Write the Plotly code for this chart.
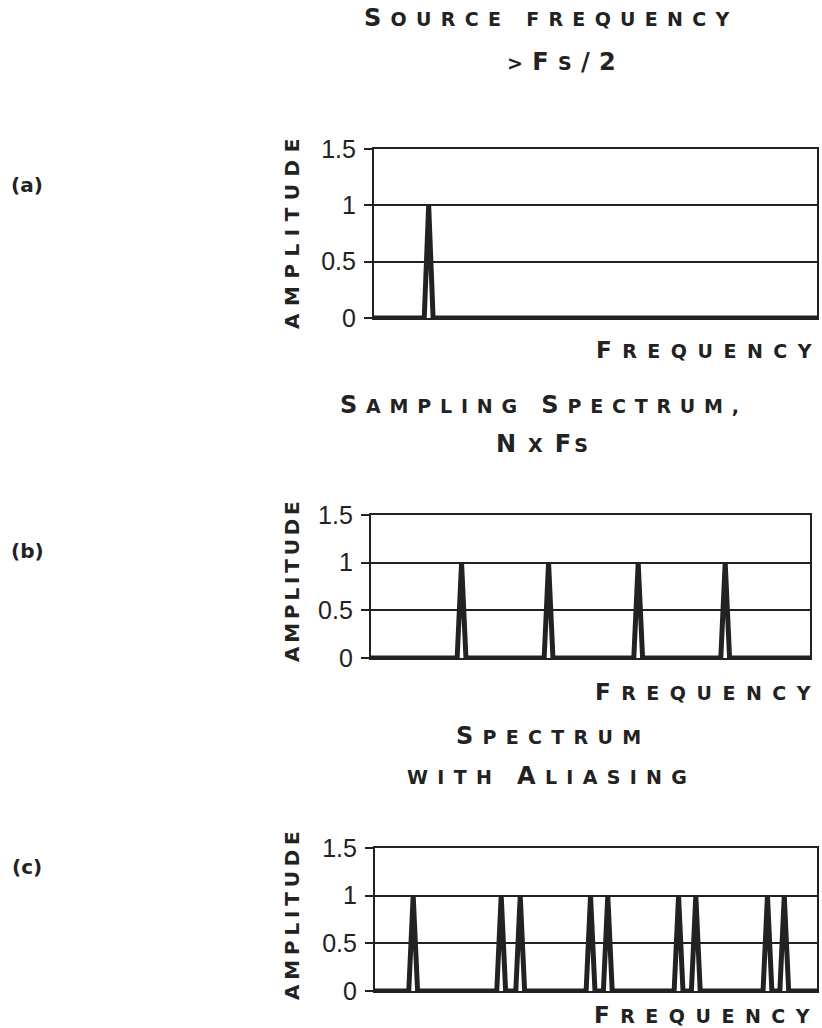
import plotly.graph_objects as go

W, H = 822, 1028

# ---------------- data (frequency position in % of axis, amplitude) ----------------
freq_a = [0, 11.4, 12.4, 13.4, 100]
amp_a = [0, 0, 1, 0, 0]

freq_b = [0, 19.7, 20.7, 21.7, 39.5, 40.5, 41.5, 59.9, 60.9, 61.9, 79.7, 80.7, 81.7, 100]
amp_b = [0, 0, 1, 0, 0, 1, 0, 0, 1, 0, 0, 1, 0, 0]

freq_c = [0, 7.7, 8.7, 9.7,
          27.6, 28.6, 29.6, 31.9, 32.9, 33.9,
          47.8, 48.8, 49.8, 51.7, 52.7, 53.7,
          67.7, 68.7, 69.7, 71.6, 72.6, 73.6,
          87.8, 88.8, 89.8, 91.6, 92.6, 93.6, 100]
amp_c = [0, 0, 1, 0,
         0, 1, 0, 0, 1, 0,
         0, 1, 0, 0, 1, 0,
         0, 1, 0, 0, 1, 0,
         0, 1, 0, 0, 1, 0, 0]

y_tick_vals = [0, 0.5, 1, 1.5]
y_tick_text = ["0", "0.5", "1", "1.5"]

INK = "#222222"
TFONT = "DejaVu Sans"


def spaced(segments, ls):
    """segments: list of (text, size[, spacing]). Letter spacing on all but the final glyph."""
    out = []
    n = len(segments)
    for i, seg in enumerate(segments):
        t, s = seg[0], seg[1]
        l = seg[2] if len(seg) > 2 else ls
        if i == n - 1:
            if len(t) > 1:
                out.append(f"<span style='font-size:{s}px;letter-spacing:{l}px'>{t[:-1]}</span>")
            out.append(f"<span style='font-size:{s}px;letter-spacing:0px'>{t[-1]}</span>")
        else:
            out.append(f"<span style='font-size:{s}px;letter-spacing:{l}px'>{t}</span>")
    return "".join(out)


def px(x):
    return x / W


def py(y):
    return 1 - y / H


fig = go.Figure()

panels = [
    dict(x=freq_a, y=amp_a, xd=[373.7, 817], yd=[149, 318]),
    dict(x=freq_b, y=amp_b, xd=[370.6, 810], yd=[515, 658]),
    dict(x=freq_c, y=amp_c, xd=[374.7, 817], yd=[848, 991]),
]

for i, p in enumerate(panels):
    sfx = "" if i == 0 else str(i + 1)
    fig.add_trace(go.Scatter(x=p["x"], y=p["y"], mode="lines",
                             line=dict(color=INK, width=5),
                             xaxis="x" + sfx, yaxis="y" + sfx,
                             showlegend=False, hoverinfo="skip"))
    fig.layout["xaxis" + sfx] = dict(
        domain=[px(p["xd"][0]), px(p["xd"][1])], range=[0, 100],
        anchor="y" + sfx, showgrid=False, showticklabels=False, ticks="",
        showline=True, mirror=True, linecolor=INK, linewidth=1.5,
        zeroline=False, fixedrange=True, automargin=False)
    fig.layout["yaxis" + sfx] = dict(
        domain=[py(p["yd"][1]), py(p["yd"][0])], range=[0, 1.5],
        anchor="x" + sfx, tickvals=y_tick_vals, ticktext=y_tick_text,
        showgrid=True, gridcolor=INK, gridwidth=1.5,
        ticks="outside", ticklen=8, tickwidth=1.5, tickcolor=INK,
        showline=True, mirror=True, linecolor=INK, linewidth=1.5,
        zeroline=False, fixedrange=True, ticklabelstandoff=3, automargin=False,
        tickfont=dict(family="Liberation Sans", size=25, color=INK))

B, S = 24, 19  # big / small cap sizes
LS = 9.3
ann = []


def add(text, x, y, size=S, angle=0):
    ann.append(dict(text=text, x=px(x), y=py(y), xref="paper", yref="paper",
                    xanchor="center", yanchor="middle", showarrow=False,
                    textangle=angle,
                    font=dict(family=TFONT, size=size, color=INK, weight="bold")))


# Titles
add(spaced([("S", B), ("OURCE FREQUENCY", S)], LS), 547, 18)
add(spaced([("&gt;", S), ("F", B), ("S", S), ("/", B), ("2", B)], LS), 561, 62)

add(spaced([("S", B), ("AMPLING ", S), ("S", B), ("PECTRUM,", S)], 8.8), 539, 405)
add(spaced([("N", B, 12), ("X", S, 12), ("F", B, 3), ("S", S)], LS), 542, 444)

add(spaced([("S", B), ("PECTRUM", S)], LS), 548, 736)
add(spaced([("WITH ", S), ("A", B), ("LIASING", S)], LS), 547, 776)

# x-axis titles
for yy, xc in [(350, 704), (692, 703), (1015, 702)]:
    add(spaced([("F", 23), ("REQUENCY", S)], 10.5), xc, yy)

# y-axis titles
for yc, ls in [(234, 7.5), (582, 3.8), (916, 4.8)]:
    add(spaced([("AMPLITUDE", 20)], ls), 292, yc, angle=-90)

# panel labels
for lab, yc in [("(a)", 185), ("(b)", 551), ("(c)", 867)]:
    add(lab, 27, yc, size=20)

fig.update_layout(
    width=W, height=H,
    margin=dict(l=0, r=0, t=0, b=0, pad=0, autoexpand=False),
    paper_bgcolor="white", plot_bgcolor="white",
    annotations=ann, showlegend=False)

fig.write_html("out.html", config={"displayModeBar": False})
